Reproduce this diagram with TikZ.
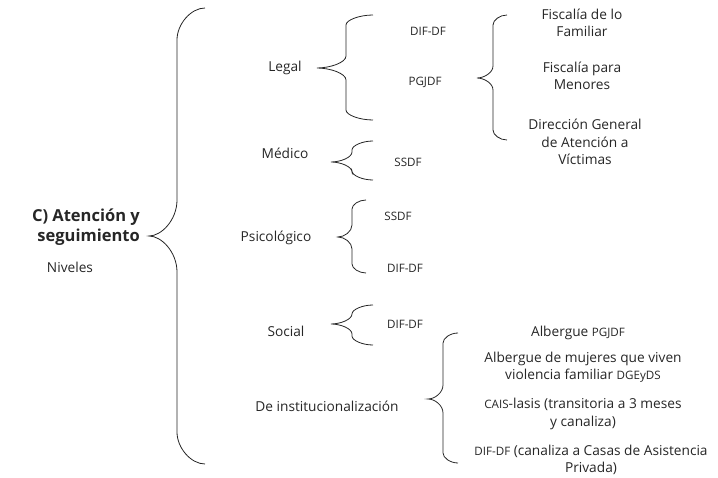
\documentclass[tikz,border=0pt]{standalone}
\usepackage{fontspec}
\setmainfont{Open Sans}
\newcommand\brc[8]{\draw[brace line] (#1,#2) .. controls ({#3+0.5*(#1-#3)},#2) and (#3,{#2+0.5*#4}) .. (#3,{#2+#4}) -- (#3,{#6-#7}) .. controls (#3,{#6-0.45*#7}) and ({#5+0.45*(#3-#5)},#6) .. (#5,#6) .. controls ({#5+0.45*(#3-#5)},#6) and (#3,{#6+0.45*#7}) .. (#3,{#6+#7}) -- (#3,{#8-#4}) .. controls (#3,{#8-0.5*#4}) and ({#3+0.5*(#1-#3)},#8) .. (#1,#8);}
\newcommand\smf{\fontsize{11.6}{14}\selectfont}
\begin{document}
\begin{tikzpicture}[x=1pt,y=-1pt,
  brace line/.style={draw=black!85,line width=0.8pt},
  txt/.style={font=\fontsize{13.7}{17.5}\selectfont,inner sep=0pt,align=center,text=black!85},
  sm/.style={font=\smf,inner sep=0pt,text=black!85},
  head/.style={font=\fontsize{16.5}{19.5}\selectfont\bfseries,inner sep=0pt,align=right,text=black!85}]
\useasboundingbox (0,0) rectangle (718,478);
% braces
\brc{205}{8}{177}{32}{149}{236}{36}{464}
\brc{373}{15}{346}{10}{317}{68}{12}{120}
\brc{507}{15}{493}{10}{477}{78}{12}{140}
\brc{373}{141}{352}{9}{331}{162}{10}{180}
\brc{366}{200}{352}{9}{338}{237}{12}{273}
\brc{373}{305}{352}{9}{331}{324}{10}{345}
\brc{458}{333}{443}{10}{428}{399}{14}{463}
% heading
\node[head,anchor=east] (h) at (140,227) {C) Atención y\\seguimiento};
\node[txt] (niv) at (70,267) {Niveles};
% level 1
\node[txt] (legal) at (285,68) {Legal};
\node[txt] (med) at (285,153) {Médico};
\node[txt] (psi) at (276,238) {Psicológico};
\node[txt] (soc) at (286,331) {Social};
\node[txt] (inst) at (327,406) {De institucionalización};
% level 2
\node[sm] (dif1) at (428,31) {DIF-DF};
\node[sm] (pgj) at (425,82) {PGJDF};
\node[sm] (ss1) at (408,162) {SSDF};
\node[sm] (ss2) at (398,216) {SSDF};
\node[sm] (dif2) at (405,268) {DIF-DF};
\node[sm] (dif3) at (405,324) {DIF-DF};
% level 3 legal
\node[txt] (fam) at (582,23) {Fiscalía de lo\\Familiar};
\node[txt] (men) at (582,76) {Fiscalía para\\Menores};
\node[txt] (dgv) at (585,142) {Dirección General\\de Atención a\\Víctimas};
% institucionalización
\node[txt] (a1) at (578,333) {Albergue {\smf PGJDF}};
\node[txt] (a2) at (583,367) {Albergue de mujeres que viven\\violencia familiar {\smf DGEyDS}};
\node[txt] (a3) at (583,414) {{\smf CAIS}-lasis (transitoria a 3 meses\\y canaliza)};
\node[txt] (a4) at (591,460) {{\smf DIF-DF} (canaliza a Casas de Asistencia\\Privada)};
\end{tikzpicture}
\end{document}
